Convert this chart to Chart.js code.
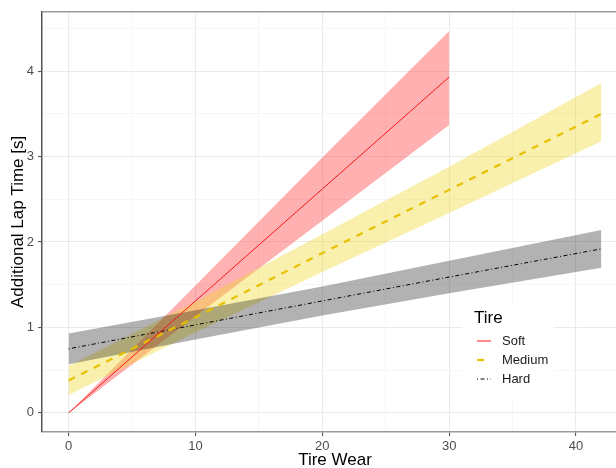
<!DOCTYPE html>
<html>
<head>
<meta charset="utf-8">
<script src="https://cdn.jsdelivr.net/npm/chart.js@4/dist/chart.umd.min.js"></script>
<style>
  html, body { margin: 0; padding: 0; background: #fff; overflow: hidden; }
  #wrap { width: 628px; height: 468px; }
</style>
</head>
<body>
<div id="wrap"><canvas id="chart" width="628" height="468"></canvas></div>
<script>
const wear = [0, 10, 20, 30, 42];
const softWear = [0, 10, 20, 30];

// Soft tire: fit and confidence band
const softFit = [0, 1.31, 2.62, 3.93];
const softLow = [0, 1.13, 2.25, 3.37];
const softHigh = [0, 1.49, 2.99, 4.47];

// Medium tire
const mediumFit = [0.38, 1.12, 1.87, 2.61, 3.50];
const mediumLow = [0.21, 0.94, 1.65, 2.34, 3.18];
const mediumHigh = [0.55, 1.30, 2.09, 2.88, 3.86];

// Hard tire
const hardFit = [0.75, 1.03, 1.31, 1.59, 1.92];
const hardLow = [0.57, 0.86, 1.14, 1.40, 1.70];
const hardHigh = [0.93, 1.20, 1.48, 1.78, 2.14];

const xTicks = [0, 10, 20, 30, 40];
const yTicks = [0, 1, 2, 3, 4];
const legendLabels = ['Soft', 'Medium', 'Hard'];

const FONT = "'Liberation Sans', Arial, sans-serif";

// Transforme deux tableaux en points {x, y}
const pts = (xs, ys) => xs.map((x, i) => ({ x, y: ys[i] }));

const bandLow = (xs, ys) => ({
  data: pts(xs, ys), borderWidth: 0, pointRadius: 0, fill: false, order: 2
});
const bandHigh = (xs, ys, color, target) => ({
  data: pts(xs, ys), borderWidth: 0, pointRadius: 0, fill: target,
  backgroundColor: color, order: 2
});

const datasets = [
  bandLow(wear, hardLow),                                   // 0
  bandHigh(wear, hardHigh, 'rgba(0,0,0,0.30)', 0),          // 1
  bandLow(wear, mediumLow),                                 // 2
  bandHigh(wear, mediumHigh, 'rgba(240,215,40,0.38)', 2),   // 3
  bandLow(softWear, softLow),                               // 4
  bandHigh(softWear, softHigh, 'rgba(255,40,40,0.36)', 4),  // 5
  { data: pts(softWear, softFit), borderColor: '#F8161B', borderWidth: 1, pointRadius: 0, fill: false, order: 0 },
  { data: pts(wear, mediumFit), borderColor: '#E8C000', borderWidth: 2.2, borderDash: [7, 7], pointRadius: 0, fill: false, order: 0 },
  { data: pts(wear, hardFit), borderColor: '#000', borderWidth: 1, borderDash: [1, 2.5, 4, 2.5], pointRadius: 0, fill: false, order: 0 }
];
const legendStyles = [6, 7, 8].map(i => datasets[i]);

const isMajor = (v, step) => Math.abs(v / step - Math.round(v / step)) < 1e-6;

// Bordure du panneau et légende dessinée à la main
const panelPlugin = {
  id: 'panel',
  afterDraw(chart) {
    const { ctx, chartArea: a } = chart;
    ctx.save();
    ctx.strokeStyle = '#9a9a9a';
    ctx.lineWidth = 1.5;
    ctx.beginPath();
    ctx.moveTo(a.left, a.top);
    ctx.lineTo(a.right, a.top);
    ctx.stroke();

    // legend
    ctx.fillStyle = '#fff';
    ctx.fillRect(462, 303, 92, 95);
    ctx.fillStyle = '#000';
    ctx.font = '17px ' + FONT;
    ctx.textBaseline = 'middle';
    ctx.textAlign = 'left';
    ctx.fillText('Tire', 474, 318);
    ctx.font = '13px ' + FONT;
    legendLabels.forEach((label, i) => {
      const y = 341 + i * 19;
      const s = legendStyles[i];
      ctx.strokeStyle = s.borderColor;
      ctx.lineWidth = s.borderWidth;
      ctx.setLineDash(s.borderDash || []);
      ctx.beginPath();
      ctx.moveTo(477, y);
      ctx.lineTo(491, y);
      ctx.stroke();
      ctx.setLineDash([]);
      ctx.fillStyle = '#1a1a1a';
      ctx.fillText(label, 502, y);
    });
    ctx.restore();
  }
};

new Chart(document.getElementById('chart'), {
  type: 'line',
  data: { datasets },
  options: {
    responsive: false,
    animation: false,
    layout: { padding: { top: 7, right: 0, left: 0, bottom: 0 } },
    plugins: {
      legend: { display: false },
      tooltip: { enabled: false },
      filler: { drawTime: 'beforeDatasetsDraw' }
    },
    scales: {
      x: {
        type: 'linear',
        min: -2.1,
        max: 44.1,
        afterBuildTicks: axis => {
          const t = [];
          for (let v = 0; v <= 40; v += 5) t.push({ value: v });
          axis.ticks = t;
        },
        afterFit: s => { s.height = 36; },
        ticks: {
          color: '#4d4d4d',
          font: { family: FONT, size: 13 },
          padding: 3,
          maxRotation: 0,
          callback: v => xTicks.includes(v) ? String(v) : ''
        },
        grid: {
          color: c => isMajor(c.tick.value, 10) ? '#ebebeb' : '#f4f4f4',
          lineWidth: c => isMajor(c.tick.value, 10) ? 1.1 : 0.8,
          tickColor: c => isMajor(c.tick.value, 10) ? '#555' : 'rgba(0,0,0,0)',
          tickLength: 4
        },
        border: { color: '#9a9a9a', width: 1.5 },
        title: {
          display: true,
          text: 'Tire Wear',
          color: '#000',
          font: { family: FONT, size: 17 },
          padding: { top: 0, bottom: -3 }
        }
      },
      y: {
        type: 'linear',
        min: -0.2235,
        max: 4.694,
        afterBuildTicks: axis => {
          const t = [];
          for (let v = 0; v <= 4.5; v += 0.5) t.push({ value: v });
          axis.ticks = t;
        },
        afterFit: s => { s.width = 42; },
        ticks: {
          color: '#4d4d4d',
          font: { family: FONT, size: 13 },
          padding: 4,
          callback: v => yTicks.includes(v) ? String(v) : ''
        },
        grid: {
          color: c => isMajor(c.tick.value, 1) ? '#ebebeb' : '#f4f4f4',
          lineWidth: c => isMajor(c.tick.value, 1) ? 1.1 : 0.8,
          tickColor: c => isMajor(c.tick.value, 1) ? '#555' : 'rgba(0,0,0,0)',
          tickLength: 4
        },
        border: { color: '#555', width: 1.5 },
        title: {
          display: true,
          text: 'Additional Lap Time [s]',
          color: '#000',
          font: { family: FONT, size: 17 },
          padding: { top: 8, bottom: 0 }
        }
      }
    }
  },
  plugins: [panelPlugin]
});
</script>
</body>
</html>
